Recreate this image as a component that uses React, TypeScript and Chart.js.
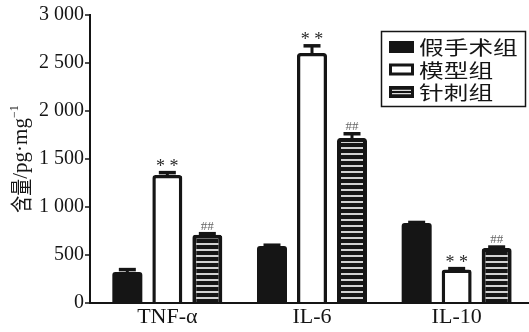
import React, { useEffect, useRef } from "react";
import { Chart, registerables } from "chart.js";

Chart.register(...registerables);

const categories = ["TNF-α", "IL-6", "IL-10"];
const groupNames = ["假手术组", "模型组", "针刺组"];
const shamValues = [323, 594, 833];
const shamErrors = [25, 8, 6];
const modelValues = [1333, 2604, 348];
const modelErrors = [25, 75, 10];
const acuValues = [712, 1719, 573];
const acuErrors = [10, 44, 10];
const yTickValues = [0, 500, 1000, 1500, 2000, 2500, 3000];
const yTickLabels = ["0", "500", "1 000", "1 500", "2 000", "2 500", "3 000"];
const modelMarks = ["* *", "* *", "* *"];
const acuMarks = ["##", "##", "##"];

const INK = "#151515";
const SERIF = "'Liberation Serif', 'DejaVu Serif', serif";
const CJK = "'Noto Sans CJK SC', sans-serif";

function makeStripePattern(): CanvasPattern | string {
  const c = document.createElement("canvas");
  c.width = 8;
  c.height = 6;
  const g = c.getContext("2d");
  if (!g) return INK;
  g.fillStyle = INK;
  g.fillRect(0, 0, 8, 6);
  g.fillStyle = "#d2d2d2";
  g.fillRect(0, 3, 8, 2);
  const p = g.createPattern(c, "repeat");
  return p || INK;
}

const decorPlugin = {
  id: "decor",
  afterDatasetsDraw(chart: any) {
    const ctx: CanvasRenderingContext2D = chart.ctx;
    const ys = chart.scales.y;
    const area = chart.chartArea;
    const axisX = area.left - 5;
    const errs = [shamErrors, modelErrors, acuErrors];
    ctx.save();
    chart.data.datasets.forEach((ds: any, di: number) => {
      const meta = chart.getDatasetMeta(di);
      meta.data.forEach((bar: any, i: number) => {
        const v = ds.data[i] as number;
        const top = ys.getPixelForValue(v + errs[di][i]);
        ctx.strokeStyle = INK;
        ctx.lineCap = "butt";
        ctx.lineWidth = 3;
        ctx.beginPath();
        ctx.moveTo(bar.x, bar.y + 2);
        ctx.lineTo(bar.x, top);
        ctx.stroke();
        ctx.lineWidth = 3.5;
        ctx.beginPath();
        ctx.moveTo(bar.x - 8.5, top);
        ctx.lineTo(bar.x + 8.5, top);
        ctx.stroke();
        ctx.textAlign = "center";
        ctx.textBaseline = "alphabetic";
        if (di === 1) {
          ctx.fillStyle = "#2a2a2a";
          ctx.font = `18px ${SERIF}`;
          ctx.fillText(modelMarks[i], bar.x, top - 1);
        } else if (di === 2) {
          ctx.fillStyle = "#666";
          ctx.font = `13px ${SERIF}`;
          ctx.fillText(acuMarks[i], bar.x, top - 4);
        }
      });
    });
    ctx.strokeStyle = INK;
    ctx.lineWidth = 2;
    ctx.beginPath();
    ctx.moveTo(axisX, ys.getPixelForValue(3000) - 1);
    ctx.lineTo(axisX, area.bottom + 1);
    ctx.moveTo(axisX - 1, area.bottom);
    ctx.lineTo(area.right, area.bottom);
    ctx.stroke();
    ctx.lineWidth = 1.5;
    yTickValues.forEach((t) => {
      const py = ys.getPixelForValue(t);
      ctx.beginPath();
      ctx.moveTo(axisX - 5, py);
      ctx.lineTo(axisX, py);
      ctx.stroke();
    });
    ctx.restore();
  },
  afterDraw(chart: any) {
    const ctx: CanvasRenderingContext2D = chart.ctx;
    const area = chart.chartArea;
    ctx.save();
    const cy = (area.top + area.bottom) / 2;
    ctx.translate(27, cy);
    ctx.rotate(-Math.PI / 2);
    ctx.fillStyle = INK;
    ctx.textBaseline = "alphabetic";
    ctx.textAlign = "left";
    ctx.font = `17px ${CJK}`;
    const cjkPart = "含量";
    const w1 = ctx.measureText(cjkPart).width;
    ctx.font = `21px ${SERIF}`;
    const latin = "/pg·mg";
    const w2 = ctx.measureText(latin).width;
    ctx.font = `12px ${SERIF}`;
    const sup = "−1";
    const w3 = ctx.measureText(sup).width;
    const total = w1 + w2 + w3;
    let x0 = -total / 2;
    ctx.save();
    ctx.translate(x0, 2);
    ctx.scale(1, 1.3);
    ctx.font = `17px ${CJK}`;
    ctx.fillText(cjkPart, 0, 0);
    ctx.restore();
    x0 += w1;
    ctx.font = `21px ${SERIF}`;
    ctx.fillText(latin, x0, 0);
    x0 += w2;
    ctx.font = `12px ${SERIF}`;
    ctx.fillText(sup, x0, -9);
    ctx.restore();

    ctx.save();
    ctx.strokeStyle = INK;
    ctx.lineWidth = 1.5;
    ctx.strokeRect(381.5, 31.5, 144, 75);
    const rows = [47, 69.5, 92];
    rows.forEach((ry, k) => {
      const sx = 389;
      const sw = 25;
      const sh = 12;
      ctx.fillStyle = INK;
      ctx.fillRect(sx, ry - sh / 2, sw, sh);
      if (k === 1) {
        ctx.fillStyle = "#fff";
        ctx.fillRect(sx + 3, ry - sh / 2 + 3, sw - 6, sh - 6);
      } else if (k === 2) {
        ctx.strokeStyle = "#dcdcdc";
        ctx.lineWidth = 1.3;
        ctx.beginPath();
        ctx.moveTo(sx + 3, ry - 1.6);
        ctx.lineTo(sx + sw - 3, ry - 1.6);
        ctx.moveTo(sx + 3, ry + 1.6);
        ctx.lineTo(sx + sw - 3, ry + 1.6);
        ctx.stroke();
      }
      ctx.save();
      ctx.translate(419, ry);
      ctx.scale(1.3, 1);
      ctx.fillStyle = INK;
      ctx.font = `19px ${CJK}`;
      ctx.textAlign = "left";
      ctx.textBaseline = "middle";
      ctx.fillText(groupNames[k], 0, 1);
      ctx.restore();
    });
    ctx.restore();
  },
};

export default function App() {
  const ref = useRef<HTMLCanvasElement | null>(null);
  useEffect(() => {
    if (!ref.current) return;
    const stripes = makeStripePattern();
    const radius = { topLeft: 3, topRight: 3, bottomLeft: 0, bottomRight: 0 };
    const chart = new Chart(ref.current, {
      type: "bar",
      data: {
        labels: categories,
        datasets: [
          {
            label: groupNames[0],
            data: shamValues,
            backgroundColor: INK,
            borderWidth: 0,
            borderRadius: radius,
          },
          {
            label: groupNames[1],
            data: modelValues,
            backgroundColor: "#ffffff",
            borderColor: INK,
            borderWidth: 3.5,
            borderRadius: radius,
          },
          {
            label: groupNames[2],
            data: acuValues,
            backgroundColor: stripes as any,
            borderColor: INK,
            borderWidth: 4,
            borderRadius: radius,
          },
        ],
      },
      options: {
        responsive: false,
        animation: false,
        devicePixelRatio: 1,
        layout: { padding: { top: 15, right: 0, left: 0, bottom: 0 } },
        datasets: {
          bar: { categoryPercentage: 0.8295, barPercentage: 0.75 },
        },
        plugins: {
          legend: { display: false },
          tooltip: { enabled: false },
          title: { display: false },
        },
        scales: {
          x: {
            grid: { display: false, drawTicks: false },
            border: { display: false },
            ticks: {
              padding: 1,
              color: INK,
              font: { family: SERIF, size: 22 },
            },
            afterFit: (s: any) => {
              s.height = 29;
            },
          },
          y: {
            min: 0,
            max: 3000,
            grid: { display: false, drawTicks: false },
            border: { display: false },
            afterBuildTicks: (s: any) => {
              s.ticks = yTickValues.map((v) => ({ value: v }));
            },
            ticks: {
              padding: 11,
              color: INK,
              font: { family: SERIF, size: 20 },
              callback: (v: any) => {
                const idx = yTickValues.indexOf(Number(v));
                return idx >= 0 ? yTickLabels[idx] : "";
              },
            },
            afterFit: (s: any) => {
              s.width = 95;
              s.paddingTop = 0;
              s.paddingBottom = 0;
            },
          },
        },
      },
      plugins: [decorPlugin],
    } as any);
    return () => chart.destroy();
  }, []);
  return (
    <div style={{ position: "absolute", left: 0, top: 0, width: 529, height: 332, background: "#fff" }}>
      <canvas ref={ref} width={529} height={332} style={{ width: 529, height: 332, display: "block" }} />
    </div>
  );
}
